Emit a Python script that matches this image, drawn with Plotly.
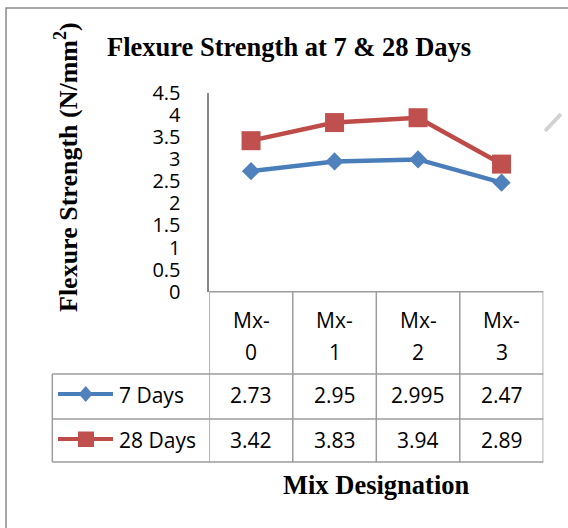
import plotly.graph_objects as go

# ---- data ----
categories = ["Mx-0", "Mx-1", "Mx-2", "Mx-3"]
days7 = [2.73, 2.95, 2.995, 2.47]
days28 = [3.42, 3.83, 3.94, 2.89]
series_names = ["7 Days", "28 Days"]
y_ticks = [0, 0.5, 1, 1.5, 2, 2.5, 3, 3.5, 4, 4.5]
title_text = "Flexure Strength at 7 & 28 Days"
y_title = "Flexure Strength (N/mm<sup>2</sup>)"
x_title = "Mix Designation"

# ---- layout helpers ----
W, H = 568, 528
def px(x):
    return x / W
def py(y):
    return 1 - y / H

BLUE_LINE = "#4a7ebb"
BLUE_MK = "#4f81bd"
RED_LINE = "#be4b48"
RED_MK = "#c0504d"
GRID = "#9c9c9c"
AXIS = "#878787"
SANS = "Open Sans"
SERIF = "Liberation Serif"
FS = 21

PLOT_L, PLOT_R = 209.3, 543.3
PLOT_T, PLOT_B = 93.0, 291.7
ROW1_T, ROW2_T, TABLE_B = 374.0, 419.0, 462.0
TABLE_L = 52.3

x_idx = list(range(len(categories)))

fig = go.Figure()
fig.add_trace(go.Scatter(
    x=x_idx, y=days7, mode="lines+markers", name=series_names[0],
    line=dict(color=BLUE_LINE, width=4.5),
    marker=dict(symbol="diamond", size=14, color=BLUE_MK),
    showlegend=False, cliponaxis=False))
fig.add_trace(go.Scatter(
    x=x_idx, y=days28, mode="lines+markers", name=series_names[1],
    line=dict(color=RED_LINE, width=4.5),
    marker=dict(symbol="square", size=19, color=RED_MK),
    showlegend=False, cliponaxis=False))

shapes = []
annotations = []

# outer chart border
shapes.append(dict(type="rect", xref="paper", yref="paper",
                   x0=px(6), x1=px(620), y0=py(580), y1=py(8),
                   line=dict(color="#8a8a8a", width=1.5), fillcolor="rgba(0,0,0,0)"))

# data table lines
def hline(y, x0p, x1p):
    shapes.append(dict(type="line", xref="paper", yref="paper",
                       x0=px(x0p), x1=px(x1p), y0=py(y), y1=py(y),
                       line=dict(color=GRID, width=1.5)))

hline(PLOT_B, PLOT_L, PLOT_R)
hline(ROW1_T, TABLE_L, PLOT_R)
hline(ROW2_T, TABLE_L, PLOT_R)
hline(TABLE_B, TABLE_L, PLOT_R)
shapes.append(dict(type="line", xref="paper", yref="paper",
                   x0=px(TABLE_L), x1=px(TABLE_L), y0=py(ROW1_T), y1=py(TABLE_B),
                   line=dict(color=GRID, width=1.5)))
for i in range(len(categories) + 1):
    shapes.append(dict(type="line", xref="x", yref="paper",
                       x0=i - 0.5, x1=i - 0.5, y0=py(PLOT_B), y1=py(TABLE_B),
                       line=dict(color=GRID, width=1.5)))

# category labels (two lines)
for i, c in enumerate(categories):
    head, num = c.split("-")
    annotations.append(dict(x=i, xref="x", y=py(320), yref="paper", text=head + "-",
                            showarrow=False, font=dict(family=SANS, size=FS, color="black"),
                            xanchor="center", yanchor="middle"))
    annotations.append(dict(x=i, xref="x", y=py(352), yref="paper", text=num,
                            showarrow=False, font=dict(family=SANS, size=FS, color="black"),
                            xanchor="center", yanchor="middle"))

# values
for row_y, vals in ((395, days7), (440, days28)):
    for i, v in enumerate(vals):
        annotations.append(dict(x=i, xref="x", y=py(row_y), yref="paper", text=f"{v:g}",
                                showarrow=False, font=dict(family=SANS, size=FS, color="black"),
                                xanchor="center", yanchor="middle"))

# legend keys in table
for row_y, name, col in ((395, series_names[0], BLUE_LINE), (440, series_names[1], RED_LINE)):
    shapes.append(dict(type="line", xref="paper", yref="paper",
                       x0=px(58), x1=px(113), y0=py(row_y - 1), y1=py(row_y - 1),
                       line=dict(color=col, width=4)))
    annotations.append(dict(x=px(117), xref="paper", y=py(row_y), yref="paper", text=name,
                            showarrow=False, font=dict(family=SANS, size=FS, color="black"),
                            xanchor="left", yanchor="middle"))
cx, cy = 85.7, 394
shapes.append(dict(type="path", xref="paper", yref="paper",
                   path=f"M {px(cx-7)},{py(cy)} L {px(cx)},{py(cy-8)} L {px(cx+7)},{py(cy)} L {px(cx)},{py(cy+8)} Z",
                   fillcolor=BLUE_MK, line=dict(color=BLUE_MK, width=0)))
shapes.append(dict(type="rect", xref="paper", yref="paper",
                   x0=px(78), x1=px(94), y0=py(447), y1=py(431.5),
                   fillcolor=RED_MK, line=dict(color=RED_MK, width=0)))

# faint stroke at top right
shapes.append(dict(type="line", xref="paper", yref="paper",
                   x0=px(545), x1=px(561), y0=py(131), y1=py(114),
                   line=dict(color="#d2d2d2", width=4)))

# titles
annotations.append(dict(x=px(289), xref="paper", y=py(47), yref="paper", text=title_text,
                        showarrow=False, font=dict(family=SERIF, size=26.5, color="black", weight="bold"),
                        xanchor="center", yanchor="middle"))
annotations.append(dict(x=px(66), xref="paper", y=py(167), yref="paper", text=y_title,
                        showarrow=False, textangle=-90,
                        font=dict(family=SERIF, size=26, color="black", weight="bold"),
                        xanchor="center", yanchor="middle"))
annotations.append(dict(x=px(376), xref="paper", y=py(485), yref="paper", text=x_title,
                        showarrow=False, font=dict(family=SERIF, size=26.5, color="black", weight="bold"),
                        xanchor="center", yanchor="middle"))

fig.update_layout(
    width=W, height=H,
    margin=dict(l=0, r=0, t=0, b=0, pad=0, autoexpand=False),
    paper_bgcolor="white", plot_bgcolor="white",
    showlegend=False,
    shapes=shapes, annotations=annotations,
    xaxis=dict(domain=[px(PLOT_L), px(PLOT_R)], range=[-0.5, len(categories) - 0.5],
               showticklabels=False, showgrid=False, zeroline=False,
               showline=False, ticks="", fixedrange=True),
    yaxis=dict(domain=[py(PLOT_B), py(PLOT_T)], range=[0, 4.5],
               tickvals=y_ticks, ticktext=[f"{v:g}" for v in y_ticks],
               tickfont=dict(family=SANS, size=20, color="black"),
               ticklabelstandoff=23,
               showgrid=False, zeroline=False, showline=True,
               linecolor=AXIS, linewidth=1.5, ticks="", fixedrange=True),
)

fig.write_html("out.html", config={"displayModeBar": False},
               post_script="document.body.style.margin='0';document.body.style.overflow='hidden';")
